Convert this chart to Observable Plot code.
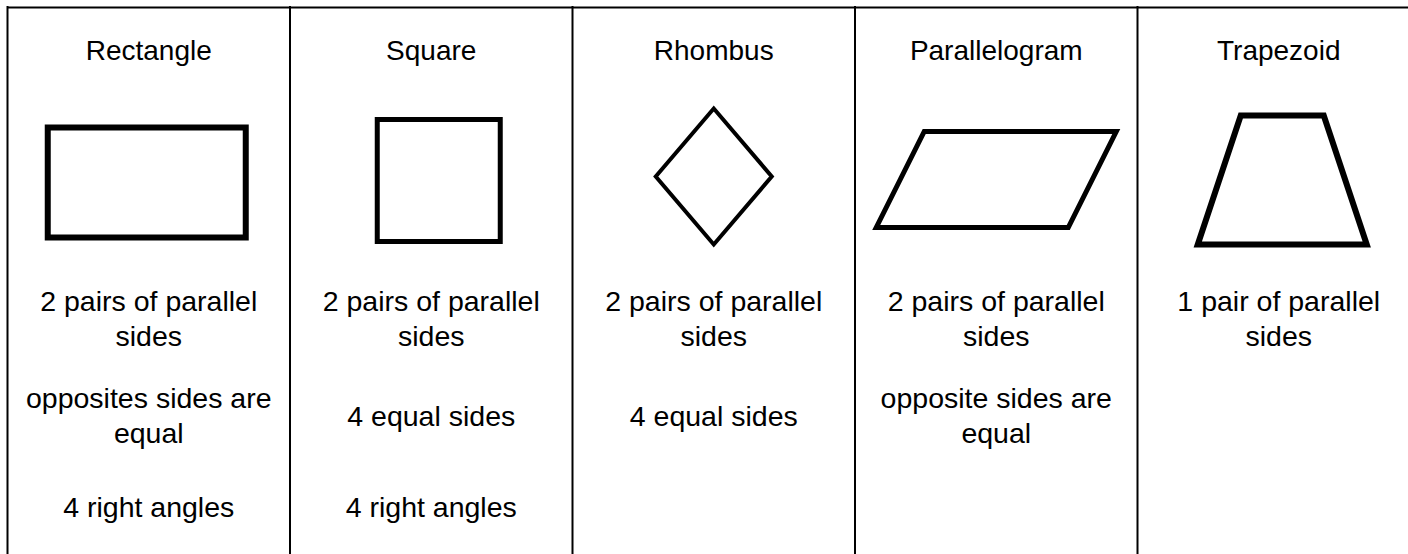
<!DOCTYPE html>
<html>
<head>
<meta charset="utf-8">
<script src="https://cdn.jsdelivr.net/npm/d3@7"></script>
<script src="https://cdn.jsdelivr.net/npm/@observablehq/plot@0.6"></script>
<style>
  html, body { margin: 0; padding: 0; background: #fff; }
  #chart svg { display: block; }
</style>
</head>
<body>
<div id="chart"></div>
<script>
// ---- data ----
const shapes = ["Rectangle", "Square", "Rhombus", "Parallelogram", "Trapezoid"];
const parallelSides = [
  "2 pairs of parallel sides",
  "2 pairs of parallel sides",
  "2 pairs of parallel sides",
  "2 pairs of parallel sides",
  "1 pair of parallel sides"
];
const sideRules = [
  "opposites sides are equal",
  "4 equal sides",
  "4 equal sides",
  "opposite sides are equal",
  ""
];
const angleRules = ["4 right angles", "4 right angles", "", "", ""];
// outline of each shape: vertices relative to its cell centre (table units)
const rectangleOutline = [[-101, -54], [97, -54], [97, 56], [-101, 56]];
const squareOutline = [[-54, -62], [69, -62], [69, 60], [-54, 60]];
const rhombusOutline = [[0, -73], [58, -5], [0, 63], [-58, -5]];
const parallelogramOutline = [[-72, -50], [120, -50], [72, 46], [-120, 46]];
const trapezoidOutline = [[-38, -66], [45, -66], [88, 63], [-81, 63]];
const outlines = [rectangleOutline, squareOutline, rhombusOutline, parallelogramOutline, trapezoidOutline];

// ---- layout / style ----
const W = 1408, H = 554;
const colW = 282.5;
const tableLeft = 7, tableTop = 7;
const rowY = {header: 51, shape: 181, parallel: 316.5, sides: 414, angles: 505};
const outlineWidths = [6, 5, 4, 5, 6];
const headerSize = 28, bodySize = 28.5, bodyLeading = 35;
const font = "'Liberation Sans', Arial, Helvetica, sans-serif";

const cellX = i => i * colW + colW / 2;

// text cells
const cells = [];
shapes.forEach((s, i) => {
  cells.push({col: i, row: "header", text: s, header: true});
  if (parallelSides[i]) cells.push({col: i, row: "parallel", text: parallelSides[i]});
  if (sideRules[i]) cells.push({col: i, row: "sides", text: sideRules[i]});
  if (angleRules[i]) cells.push({col: i, row: "angles", text: angleRules[i]});
});

// closed outlines, starting mid-edge so every corner gets a proper join
const pts = [];
outlines.forEach((verts, i) => {
  const a = verts[verts.length - 1], b = verts[0];
  const mid = [(a[0] + b[0]) / 2, (a[1] + b[1]) / 2];
  [mid, ...verts, mid].forEach(([dx, dy]) =>
    pts.push({col: i, x: cellX(i) + dx, y: rowY.shape + dy}));
});

const headerMark = Plot.text(cells.filter(d => d.header), {
  x: d => cellX(d.col),
  y: d => rowY[d.row],
  text: "text",
  fontSize: headerSize,
  fill: "#000",
  textAnchor: "middle"
});
const bodyMark = Plot.text(cells.filter(d => !d.header), {
  x: d => cellX(d.col),
  y: d => rowY[d.row],
  text: "text",
  fontSize: bodySize,
  lineWidth: 9.8,
  lineHeight: bodyLeading / bodySize,
  fill: "#000",
  textAnchor: "middle"
});

const outlineMarks = shapes.map((s, i) => Plot.line(pts.filter(p => p.col === i), {
  x: "x", y: "y",
  stroke: "#000",
  strokeWidth: outlineWidths[i],
  strokeLinejoin: "miter",
  strokeMiterlimit: 10
}));

const chart = Plot.plot({
  width: W,
  height: H,
  margin: 0,
  style: {fontFamily: font, background: "#fff"},
  x: {domain: [0, 5 * colW], range: [tableLeft, tableLeft + 5 * colW], axis: null},
  y: {domain: [0, H], range: [0, H], axis: null},
  marks: [
    Plot.ruleY([tableTop], {x1: 0, x2: 5 * colW, stroke: "#000", strokeWidth: 2}),
    Plot.ruleX(d3.range(5), {x: i => i * colW, y1: tableTop - 1, y2: H + 10, stroke: "#000", strokeWidth: 2}),
    ...outlineMarks,
    headerMark,
    bodyMark
  ]
});
document.getElementById("chart").appendChild(chart);
</script>
</body>
</html>
